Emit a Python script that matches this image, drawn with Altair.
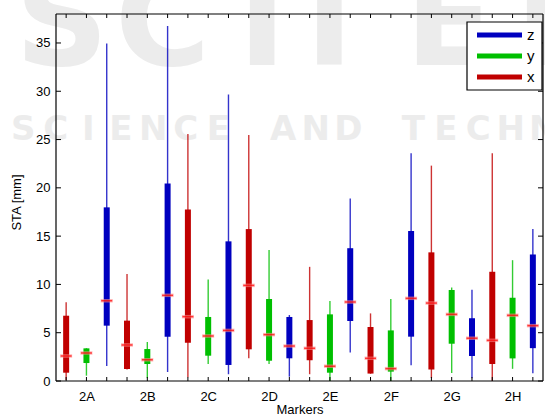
import json
import altair as alt
import pandas as pd

# Marker names and the three displacement components drawn for each
markers = ["2A", "2B", "2C", "2D", "2E", "2F", "2G", "2H"]
components = ["x", "y", "z"]
colors = {"x": "#c00000", "y": "#00bf00", "z": "#0000bf"}

# Box-plot statistics per component (STA, mm): whisker low, Q1, median, Q3, whisker high
x_lo = [0.1, 1.2, 0.4, 2.35, 0.7, 0.75, 0.3, 0.0]
x_q1 = [0.86, 1.24, 3.97, 3.28, 2.15, 0.77, 1.19, 1.76]
x_med = [2.59, 3.73, 6.66, 9.9, 3.38, 2.35, 8.07, 4.21]
x_q3 = [6.76, 6.25, 17.77, 15.73, 6.31, 5.59, 13.32, 11.31]
x_hi = [8.15, 11.08, 25.57, 25.47, 11.82, 7.0, 22.3, 23.57]

y_lo = [0.55, 0.3, 1.76, 1.76, 0.0, 0.0, 0.83, 1.26]
y_q1 = [1.86, 1.76, 2.62, 2.1, 0.86, 0.97, 3.86, 2.34]
y_med = [2.9, 2.2, 4.66, 4.8, 1.53, 1.28, 6.9, 6.8]
y_q3 = [3.38, 3.31, 6.63, 8.49, 6.9, 5.24, 9.42, 8.62]
y_hi = [3.4, 4.04, 10.52, 13.56, 8.28, 8.49, 9.68, 12.51]

z_lo = [1.55, 0.93, 0.69, 0.45, 2.95, 1.64, 0.28, 0.79]
z_q1 = [5.73, 4.59, 1.66, 2.35, 6.21, 4.59, 2.59, 3.4]
z_med = [8.31, 8.87, 5.24, 3.62, 8.18, 8.56, 4.43, 5.73]
z_q3 = [17.98, 20.46, 14.46, 6.63, 13.75, 15.53, 6.5, 13.1]
z_hi = [34.95, 36.75, 29.67, 6.83, 18.9, 23.57, 9.45, 15.75]

y_ticks = [0, 5, 10, 15, 20, 25, 30, 35]
legend_order = ["z", "y", "x"]

stats = {
    "x": (x_lo, x_q1, x_med, x_q3, x_hi),
    "y": (y_lo, y_q1, y_med, y_q3, y_hi),
    "z": (z_lo, z_q1, z_med, z_q3, z_hi),
}

rows = []
for i, m in enumerate(markers):
    for j, c in enumerate(components):
        lo, q1, md, q3, hi = (s[i] for s in stats[c])
        rows.append(dict(marker=m, comp=c, pos=i * 3 + j + 1,
                         lo=lo, q1=q1, med=md, q3=q3, hi=hi))
df = pd.DataFrame(rows)

W, H = 487, 367
FONT = "Liberation Sans"
n_pos = len(markers) * len(components)

xscale = alt.Scale(domain=[0.5, n_pos + 0.5], nice=False, zero=False)
yscale = alt.Scale(domain=[0, 38], nice=False, zero=False)
cscale = alt.Scale(domain=components, range=[colors[c] for c in components])

label_expr = json.dumps(markers) + "[floor((datum.value - 2) / 3)]"
x_axis = alt.Axis(values=[i * 3 + 2 for i in range(len(markers))], labelExpr=label_expr,
                  title="Markers", ticks=False, tickSize=0, domain=False, grid=False,
                  labelFont=FONT, labelFontSize=13, labelColor="black", labelPadding=9,
                  titleFont=FONT, titleFontSize=13, titleFontWeight="normal",
                  titleColor="black", titleBaseline="top", titleY=22, zindex=1)
y_axis = alt.Axis(values=y_ticks, title="STA [mm]", ticks=False, tickSize=0, domain=False,
                  grid=False, labelFont=FONT, labelFontSize=13, labelColor="black",
                  labelPadding=6, titleFont=FONT, titleFontSize=13,
                  titleFontWeight="normal", titleColor="black", titleAngle=270,
                  titleAlign="center", titleBaseline="alphabetic", titleX=-36,
                  titleY=188, zindex=1)


def X(field):
    return alt.X(field, scale=xscale, axis=x_axis)


def Y(field):
    return alt.Y(field, scale=yscale, axis=y_axis)


one = pd.DataFrame({"k": [0]})

# Faint publisher lettering in the background, one glyph per layer
wm_color = "#ececec"
wm_big_letters = ["S", "C", "I", "T", "E", "P"]
wm_big_x = [-41, 59, 182, 229, 349, 459]
wm_line = "SCIENCE AND TECHNOLOGY"
wm_step = 32.5


def wm_glyph(ch, xpix, ypix, size):
    return alt.Chart(pd.DataFrame({"t": [ch]})).mark_text(
        font="DejaVu Sans", fontWeight="bold", fontSize=size, color=wm_color,
        align="left" if size > 60 else "center", baseline="alphabetic"
    ).encode(text="t:N", x=alt.value(xpix), y=alt.value(ypix))


watermark = [wm_glyph(ch, xp, 51, 130) for ch, xp in zip(wm_big_letters, wm_big_x)]
watermark += [
    wm_glyph(ch, -49 + wm_step * (k + 0.5), 126, 34)
    for k, ch in enumerate(wm_line) if ch != " "
]

base = alt.Chart(df)

whiskers = base.mark_rule(strokeWidth=1.4, opacity=0.8).encode(
    x=X("pos:Q"), y=Y("lo:Q"), y2="hi:Q",
    color=alt.Color("comp:N", scale=cscale, legend=None),
)

boxes = base.mark_rule(strokeWidth=6, strokeCap="butt").encode(
    x=X("pos:Q"), y=Y("q1:Q"), y2="q3:Q",
    color=alt.Color("comp:N", scale=cscale, legend=None),
)

median_halo = base.mark_tick(orient="horizontal", size=12, thickness=3.5,
                             color="#ff8a8a", opacity=0.6).encode(
    x=X("pos:Q"), y=Y("med:Q"))
medians = base.mark_tick(orient="horizontal", size=11, thickness=1.5,
                         color="#ff0000").encode(
    x=X("pos:Q"), y=Y("med:Q"))

# Inward tick marks on all four sides
yt = alt.Chart(pd.DataFrame({"v": y_ticks}))
ytick_l = yt.mark_rule(color="black", strokeWidth=1).encode(
    y=Y("v:Q"), x=alt.value(0), x2=alt.value(5))
ytick_r = yt.mark_rule(color="black", strokeWidth=1).encode(
    y=Y("v:Q"), x=alt.value(W - 5), x2=alt.value(W))
xt = alt.Chart(pd.DataFrame({"p": list(range(1, n_pos + 1))}))
xtick_b = xt.mark_rule(color="black", strokeWidth=1).encode(
    x=X("p:Q"), y=alt.value(H - 4), y2=alt.value(H))
xtick_t = xt.mark_rule(color="black", strokeWidth=1).encode(
    x=X("p:Q"), y=alt.value(0), y2=alt.value(4))

# Axes frame
frame = [
    alt.Chart(one).mark_rule(color="black", strokeWidth=1.2).encode(
        x=alt.value(0), x2=alt.value(W), y=alt.value(0)),
    alt.Chart(one).mark_rule(color="black", strokeWidth=1.2).encode(
        x=alt.value(0), x2=alt.value(W), y=alt.value(H)),
    alt.Chart(one).mark_rule(color="black", strokeWidth=1.2).encode(
        x=alt.value(0), y=alt.value(0), y2=alt.value(H)),
    alt.Chart(one).mark_rule(color="black", strokeWidth=1.2).encode(
        x=alt.value(W), y=alt.value(0), y2=alt.value(H)),
]

# Legend box with line samples
leg_left, leg_right, leg_top, leg_bottom = 411, 486, 8, 76
row0, row_gap = 21, 21
legend_layers = [
    alt.Chart(one).mark_rect(fill="white", stroke="black", strokeWidth=1.2).encode(
        x=alt.value(leg_left), x2=alt.value(leg_right),
        y=alt.value(leg_top), y2=alt.value(leg_bottom))
]
for k, c in enumerate(legend_order):
    ypix = row0 + k * row_gap
    legend_layers.append(
        alt.Chart(one).mark_rule(color=colors[c], strokeWidth=5, strokeCap="butt").encode(
            x=alt.value(leg_left + 10), x2=alt.value(leg_left + 55), y=alt.value(ypix)))
    legend_layers.append(
        alt.Chart(pd.DataFrame({"t": [c]})).mark_text(
            font=FONT, fontSize=15, color="black", align="left", baseline="middle"
        ).encode(text="t:N", x=alt.value(leg_left + 60), y=alt.value(ypix)))

chart = alt.layer(
    *watermark, whiskers, boxes, median_halo, medians,
    ytick_l, ytick_r, xtick_b, xtick_t, *frame, *legend_layers
).properties(
    width=W, height=H,
    autosize=alt.AutoSizeParams(type="none"),
    padding={"left": 56, "top": 14, "right": 2, "bottom": 33},
    background="white",
).configure_view(stroke=None)

chart.save("out.html", embed_options={"renderer": "svg", "actions": False})
